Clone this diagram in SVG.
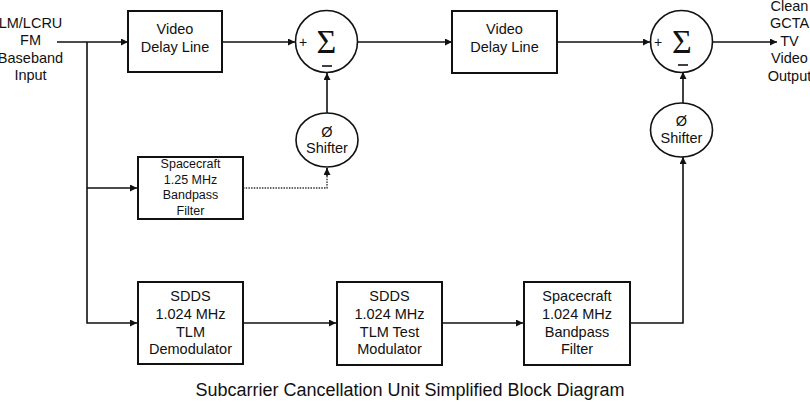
<svg xmlns="http://www.w3.org/2000/svg" width="810" height="402" viewBox="0 0 810 402">
<defs>
<marker id="ah" viewBox="0 0 10 10" refX="10" refY="5" markerWidth="7" markerHeight="7" markerUnits="userSpaceOnUse" orient="auto">
<path d="M0,0 L10,5 L0,10 Z" fill="#111"/>
</marker>
<style>
.box{fill:#fff;stroke:#111;stroke-width:2}
.circ{fill:#fff;stroke:#111;stroke-width:1.6}
.t{font-family:"Liberation Sans",Arial,sans-serif;font-size:14.5px;fill:#111;text-anchor:middle}
.ts{font-family:"Liberation Sans",Arial,sans-serif;font-size:12.5px;fill:#111;text-anchor:middle}
.sig{font-family:"Liberation Serif","Times New Roman",serif;font-size:34px;fill:#111;text-anchor:middle}
.pm{font-family:"Liberation Sans",Arial,sans-serif;font-size:14px;fill:#111;text-anchor:middle}
.title{font-family:"Liberation Sans",Arial,sans-serif;font-size:18px;fill:#111;text-anchor:middle}
.c{fill:none;stroke:#111;stroke-width:1.6}
.dot{fill:none;stroke:#333;stroke-width:1.4;stroke-dasharray:1.5,1.2}
</style>
</defs>
<rect width="810" height="402" fill="#fff"/>

<g id="connectors">
<line class="c" x1="57" y1="42" x2="128" y2="42" marker-end="url(#ah)"/>
<line class="c" x1="222" y1="42" x2="295" y2="42" marker-end="url(#ah)"/>
<line class="c" x1="358" y1="42" x2="452" y2="42" marker-end="url(#ah)"/>
<line class="c" x1="557" y1="42" x2="650" y2="42" marker-end="url(#ah)"/>
<line class="c" x1="713" y1="42" x2="777" y2="42" marker-end="url(#ah)"/>
<polyline class="c" points="87,42 87,323 137,323" marker-end="url(#ah)"/>
<line class="c" x1="87" y1="188" x2="137" y2="188" marker-end="url(#ah)"/>
<polyline class="dot" points="243,188 327,188 327,168"/>
<line class="c" x1="327" y1="176" x2="327" y2="168" marker-end="url(#ah)"/>
<line class="c" x1="327" y1="113" x2="327" y2="73" marker-end="url(#ah)"/>
<line class="c" x1="243" y1="323" x2="336" y2="323" marker-end="url(#ah)"/>
<line class="c" x1="442" y1="323" x2="523" y2="323" marker-end="url(#ah)"/>
<polyline class="c" points="630,323 683,323 683,157" marker-end="url(#ah)"/>
<line class="c" x1="683" y1="103" x2="683" y2="72" marker-end="url(#ah)"/>
</g>

<g id="input">
<text class="t" x="30.5" y="27.5">LM/LCRU</text>
<text class="t" x="30.5" y="45">FM</text>
<text class="t" x="30.5" y="62.5">Baseband</text>
<text class="t" x="30.5" y="80">Input</text>
</g>

<g id="delay1">
<rect class="box" x="128" y="11" width="94" height="61"/>
<text class="t" x="175" y="34">Video</text>
<text class="t" x="175" y="52">Delay Line</text>
</g>

<g id="sum1">
<circle class="circ" cx="326.5" cy="41.5" r="31"/>
<text class="sig" x="326.5" y="53">Σ</text>
<text class="pm" x="303" y="47">+</text>
<line x1="322" y1="66" x2="332" y2="66" stroke="#111" stroke-width="1.6"/>
</g>

<g id="shifter1">
<ellipse class="circ" cx="327" cy="140" rx="31" ry="27"/>
<text class="t" x="327" y="137">Ø</text>
<text class="t" x="327" y="153">Shifter</text>
</g>

<g id="filter125">
<rect class="box" x="138" y="157" width="105" height="62"/>
<text class="ts" x="190.5" y="168">Spacecraft</text>
<text class="ts" x="190.5" y="184">1.25 MHz</text>
<text class="ts" x="190.5" y="199">Bandpass</text>
<text class="ts" x="190.5" y="215">Filter</text>
</g>

<g id="delay2">
<rect class="box" x="452" y="11" width="105" height="62"/>
<text class="t" x="504.5" y="34">Video</text>
<text class="t" x="504.5" y="52">Delay Line</text>
</g>

<g id="sum2">
<circle class="circ" cx="681.5" cy="41.5" r="31"/>
<text class="sig" x="682" y="53">Σ</text>
<text class="pm" x="658" y="47">+</text>
<line x1="678" y1="65" x2="688" y2="65" stroke="#111" stroke-width="1.6"/>
</g>

<g id="shifter2">
<ellipse class="circ" cx="681.5" cy="130" rx="31" ry="27"/>
<text class="t" x="681.5" y="126">Ø</text>
<text class="t" x="681.5" y="143">Shifter</text>
</g>

<g id="output">
<text class="t" x="789.5" y="10.5">Clean</text>
<text class="t" x="789.5" y="28">GCTA</text>
<text class="t" x="789.5" y="45.5">TV</text>
<text class="t" x="789.5" y="63">Video</text>
<text class="t" x="789.5" y="80.5">Output</text>
</g>

<g id="demod">
<rect class="box" x="138" y="282" width="105" height="82"/>
<text class="t" x="190.5" y="301">SDDS</text>
<text class="t" x="190.5" y="319">1.024 MHz</text>
<text class="t" x="190.5" y="337">TLM</text>
<text class="t" x="190.5" y="354">Demodulator</text>
</g>

<g id="testmod">
<rect class="box" x="337" y="282" width="105" height="83"/>
<text class="t" x="389.5" y="301">SDDS</text>
<text class="t" x="389.5" y="319">1.024 MHz</text>
<text class="t" x="389.5" y="337">TLM Test</text>
<text class="t" x="389.5" y="354">Modulator</text>
</g>

<g id="filter1024">
<rect class="box" x="524" y="282" width="106" height="83"/>
<text class="t" x="577" y="301">Spacecraft</text>
<text class="t" x="577" y="319">1.024 MHz</text>
<text class="t" x="577" y="337">Bandpass</text>
<text class="t" x="577" y="354">Filter</text>
</g>

<text class="title" x="410" y="396">Subcarrier Cancellation Unit Simplified Block Diagram</text>
</svg>
